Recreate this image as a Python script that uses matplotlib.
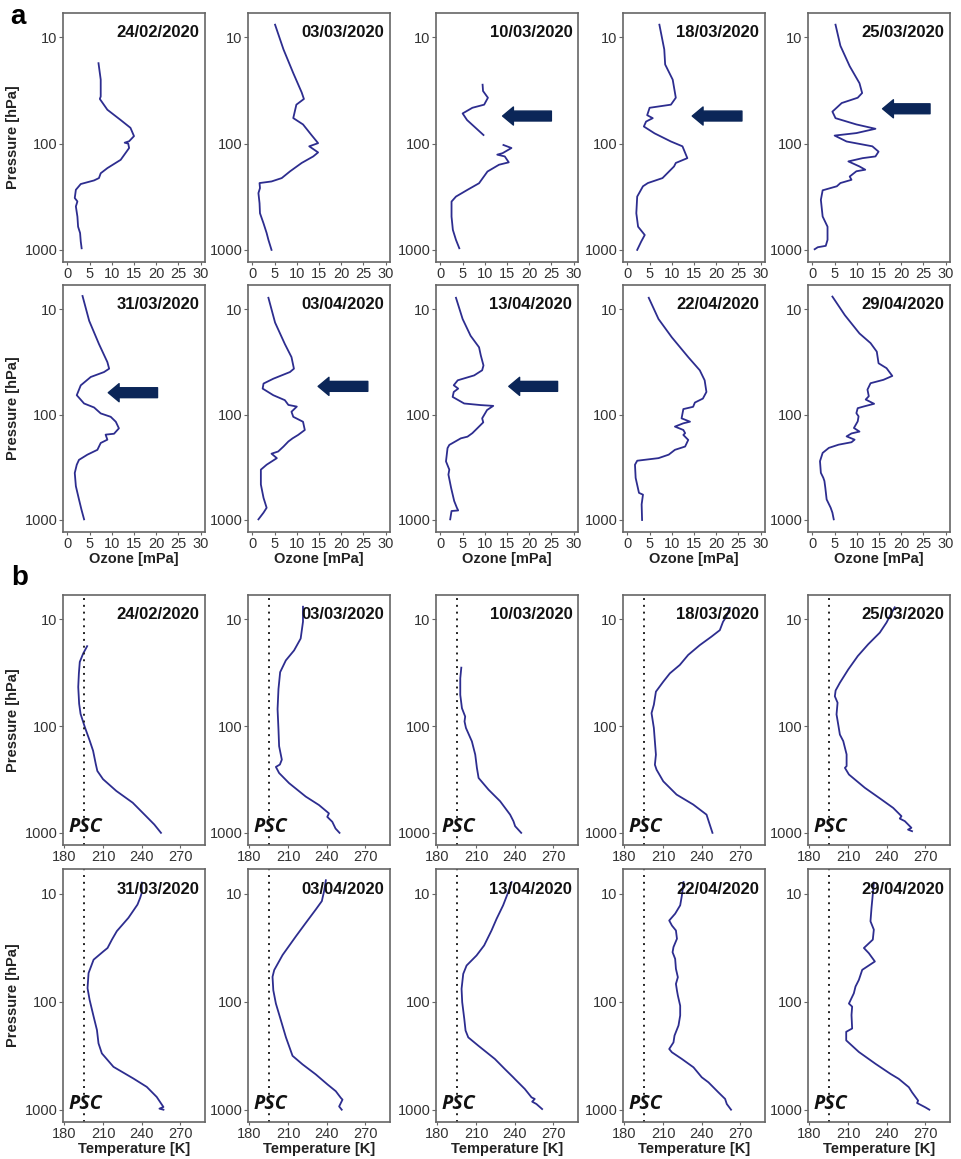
import numpy as np
import matplotlib
matplotlib.use('Agg')
import matplotlib.pyplot as plt

plt.rcParams['font.family'] = ['Liberation Sans', 'DejaVu Sans']

nan = float('nan')

# ---- ozone profiles (mPa) vs pressure (hPa) ----
o3_p_0224 = [17.5, 25, 36, 38, 48, 60, 71, 85, 95, 98, 100, 110, 142, 170, 190, 211, 222, 240, 272, 325, 350, 390, 487, 605, 694, 832, 966]
o3_0224 = [7.0, 7.5, 7.5, 7.3, 9.0, 12.0, 14.2, 15.0, 13.9, 12.9, 13.7, 13.9, 12.0, 9.0, 7.5, 7.1, 6.0, 3.0, 1.9, 1.65, 2.25, 1.9, 2.25, 2.4, 2.85, 3.0, 3.2]

o3_p_0303 = [7.6, 13, 21.7, 33, 38, 43, 57.5, 66, 83, 99, 106, 121, 132, 152, 182, 211, 227, 235, 262, 292, 364, 452, 563, 694, 805, 1000]
o3_0303 = [5.1, 7.0, 9.2, 11.1, 11.6, 9.9, 9.2, 11.4, 13.3, 14.8, 12.8, 14.8, 13.7, 11.1, 8.5, 6.6, 4.3, 1.6, 1.7, 1.35, 1.6, 1.7, 2.5, 3.2, 3.6, 4.3]

o3_p_0310 = [27.9, 32, 37, 43, 46, 52, 60, 71.5, 83, 92, 103, 110, 123, 127, 132, 150, 158, 183, 236, 272, 315, 351, 486, 648, 805, 965]
o3_0310 = [9.5, 9.6, 10.7, 9.85, 7.2, 5.0, 6.0, 8.0, 9.7, nan, 14.2, 16.0, 14.0, 12.8, 14.5, 15.4, 13.2, 10.6, 8.7, 6.1, 3.5, 2.5, 2.5, 2.8, 3.5, 4.25]

o3_p_0318 = [7.6, 13, 18, 25, 37, 43, 46, 54, 57.6, 62, 69, 80, 95.5, 106, 137, 152, 164, 211, 235, 252, 315, 452, 605, 724, 835, 1000]
o3_0318 = [7.2, 8.3, 8.5, 10.2, 10.9, 9.8, 5.0, 4.45, 5.7, 4.2, 3.7, 6.1, 9.8, 12.4, 13.5, 10.9, 10.5, 7.9, 4.6, 3.5, 2.2, 2.0, 2.4, 3.9, 3.1, 2.2]

o3_p_0325 = [7.6, 12, 18.7, 27, 33.4, 37, 41.5, 50, 57.6, 66, 72.5, 79.6, 84, 95.5, 106, 119, 132, 137, 147, 164, 176, 182, 204, 219, 235, 252, 275, 338, 485, 605, 805, 916, 944, 986]
o3_0325 = [5.2, 6.3, 8.4, 10.6, 11.2, 10.2, 6.6, 4.5, 5.2, 9.9, 14.2, 9.9, 5.0, 7.7, 13.5, 14.9, 14.2, 11.3, 8.1, 10.6, 11.9, 9.9, 8.4, 8.8, 6.3, 5.5, 2.3, 1.9, 2.3, 3.4, 3.4, 3.0, 1.2, 0.5]

o3_p_0331 = [7.5, 12.9, 21.4, 31.8, 36.7, 39.5, 44, 52.8, 65.5, 78.5, 85.6, 97.5, 105, 117, 135, 152, 155, 173, 186, 216, 240, 269, 299, 358, 478, 638, 794, 986]
o3_0331 = [3.4, 4.9, 7.1, 9.0, 9.4, 8.25, 5.25, 3.0, 2.1, 3.75, 6.0, 7.5, 9.75, 10.9, 11.6, 10.5, 8.6, 9.0, 7.5, 6.75, 4.5, 2.6, 2.1, 1.65, 1.9, 2.6, 3.15, 3.75]

o3_p_0403 = [7.8, 13.4, 21.4, 28.5, 36.7, 39.5, 45.7, 50.8, 56.7, 65.5, 73, 81, 84, 94, 105, 117, 140, 156, 168, 180, 201, 224, 235, 259, 299, 333, 461, 617, 766, 852, 986]
o3_0403 = [3.6, 5.1, 7.3, 8.8, 9.35, 8.45, 4.7, 2.5, 2.3, 4.7, 7.3, 8.1, 10.0, 8.8, 9.2, 11.4, 11.8, 10.3, 9.05, 8.1, 7.0, 5.8, 4.3, 5.5, 3.2, 1.9, 1.9, 2.5, 3.2, 2.5, 1.35]

o3_p_0413 = [7.8, 12.4, 17.9, 23, 27.5, 34.2, 38, 42.5, 47.3, 52.7, 56.7, 61, 68, 78.5, 81.3, 82.7, 90.6, 108.6, 118.5, 135, 150, 162, 168, 194, 208, 278, 333, 371, 495, 661, 765, 812, 822, 986]
o3_0413 = [3.5, 5.0, 6.8, 8.7, 9.1, 9.7, 9.4, 7.6, 3.9, 3.0, 4.0, 3.0, 2.75, 5.35, 9.1, 11.9, 10.5, 9.4, 9.65, 8.3, 7.2, 6.1, 4.6, 2.0, 1.6, 1.25, 2.0, 1.8, 2.4, 3.1, 3.7, 4.0, 2.5, 2.2]

o3_p_0422 = [7.8, 12.4, 18.5, 28.5, 38, 47.3, 61, 70.5, 76.9, 84.4, 88.7, 108.6, 116.8, 121, 130, 140, 150, 156, 174, 201, 216, 240, 259, 274, 299, 399, 553, 575, 711, 1000]
o3_0422 = [4.8, 7.0, 10.0, 13.7, 16.3, 17.4, 17.8, 17.0, 15.2, 14.8, 12.6, 12.2, 14.1, 12.6, 10.7, 12.6, 13.0, 12.6, 13.7, 13.0, 10.7, 9.3, 7.0, 2.2, 1.7, 1.85, 2.6, 3.5, 3.2, 3.3]

o3_p_0429 = [7.6, 11.4, 17, 21, 25.3, 32.6, 36.3, 43, 46.8, 50.4, 58, 67, 72, 79, 83.7, 87, 97, 104, 116, 134, 145, 151, 161, 173, 183, 193, 207, 231, 277, 357, 398, 427, 494, 638, 764, 852, 986]
o3_0429 = [4.5, 7.3, 10.6, 13.1, 14.5, 14.9, 16.7, 18.0, 16.0, 13.1, 12.4, 12.7, 12.0, 13.9, 11.6, 10.2, 9.9, 10.4, 10.2, 9.35, 10.6, 8.8, 7.7, 9.5, 8.8, 5.9, 3.7, 2.3, 1.7, 1.9, 2.45, 2.7, 2.9, 3.2, 4.1, 4.5, 4.8]

# ---- temperature profiles (K) vs pressure (hPa) ----
t_p_0224 = [17.8, 20.9, 25, 32, 43, 61.7, 76.7, 102, 137, 170, 227, 263, 314, 405, 522, 697, 835, 1000]
t_0224 = [197.7, 194.6, 192.0, 191.3, 190.8, 191.5, 192.6, 195.9, 199.7, 202.3, 204.4, 205.6, 210.0, 220.3, 233.0, 243.3, 249.7, 254.9]

t_p_0303 = [7.6, 10.5, 15.1, 19.5, 24.2, 31.2, 44.9, 69.2, 107, 154, 206, 229, 241, 275, 342, 457, 549, 657, 708, 788, 911, 1000]
t_0303 = [221.6, 221.6, 219.8, 214.7, 208.3, 203.9, 202.6, 201.9, 202.6, 203.1, 205.2, 203.7, 200.6, 203.1, 210.8, 223.7, 234.0, 241.7, 240.4, 244.3, 246.8, 249.9]

t_p_0310 = [28.3, 35.6, 51, 67.9, 81.3, 90.4, 104, 139, 185, 247, 306, 394, 506, 675, 778, 866, 1000]
t_0310 = [198.6, 197.8, 197.8, 199.1, 201.6, 201.1, 202.2, 206.8, 209.4, 210.7, 212.0, 219.7, 228.7, 236.4, 239.0, 240.3, 245.0]

t_p_0318 = [7.8, 9.4, 10.5, 12.6, 14.5, 17.4, 21.5, 26.7, 32, 38.3, 47.5, 63, 75.5, 104, 139, 185, 230, 256, 329, 438, 543, 675, 836, 1000]
t_0318 = [261.7, 259.1, 256.5, 254.0, 247.5, 238.5, 229.5, 223.0, 215.3, 210.2, 204.5, 202.9, 201.1, 202.9, 203.7, 204.5, 203.7, 205.0, 210.2, 220.5, 233.4, 243.7, 246.2, 248.3]

t_p_0325 = [7.7, 8.7, 10.7, 13.3, 17.1, 22, 29.4, 39.2, 46.3, 52.5, 60.3, 77.6, 96.4, 120, 138, 184, 237, 246, 284, 378, 487, 584, 698, 735, 777, 897, 933, 965]
t_0325 = [246.2, 243.7, 239.8, 234.6, 225.6, 217.6, 210.2, 203.7, 200.4, 199.8, 201.9, 201.1, 202.4, 203.7, 206.3, 208.9, 208.9, 207.6, 210.7, 223.0, 235.9, 245.0, 251.4, 250.1, 254.0, 259.1, 256.5, 259.6]

t_p_0331 = [7.9, 9.8, 10.9, 12.6, 16.7, 22.2, 26.6, 31.8, 34.1, 40.8, 54.3, 74.9, 96, 137, 183, 243, 301, 401, 515, 615, 762, 944, 978, 1000]
t_0331 = [240.0, 240.0, 238.8, 236.7, 229.7, 220.7, 216.9, 213.5, 210.4, 202.7, 198.8, 198.0, 199.6, 202.7, 205.3, 206.5, 209.1, 218.1, 233.6, 243.9, 251.6, 256.8, 253.7, 256.8]

t_p_0403 = [7.5, 9.4, 11.7, 14, 18.6, 24.8, 36.9, 50.9, 58.8, 78.3, 104, 149, 214, 317, 380, 471, 584, 674, 777, 807, 933, 1000]
t_0403 = [239.3, 238.0, 236.2, 231.5, 223.8, 216.1, 205.8, 199.3, 198.0, 198.6, 200.6, 204.5, 208.4, 213.5, 221.2, 231.5, 240.6, 247.0, 250.9, 252.2, 249.6, 251.6]

t_p_0413 = [7.8, 9.7, 12.8, 17.1, 21.9, 30.1, 37.3, 46.2, 55.2, 76, 101, 144, 185, 214, 255, 339, 420, 501, 520, 643, 769, 795, 843, 886, 986]
t_0413 = [237.5, 234.9, 231.0, 225.9, 222.0, 216.3, 210.4, 202.7, 200.1, 198.8, 199.3, 200.9, 201.9, 204.0, 211.7, 224.6, 232.3, 238.8, 240.1, 247.8, 253.0, 255.5, 253.5, 256.8, 261.2]

t_p_0422 = [7.8, 10.4, 12.8, 15.3, 17.7, 19.7, 21.9, 26.1, 31.2, 34.8, 40.1, 49.6, 59.3, 68.4, 78.8, 87.7, 109, 134, 166, 206, 238, 274, 294, 339, 405, 501, 558, 691, 795, 886, 1000]
t_0422 = [225.9, 224.6, 223.3, 219.4, 214.8, 216.9, 220.0, 220.8, 218.1, 217.4, 219.4, 220.0, 221.5, 220.0, 220.8, 221.5, 223.3, 223.3, 222.0, 218.9, 218.1, 214.8, 216.9, 224.6, 233.6, 240.0, 245.2, 252.9, 258.1, 259.4, 262.7]

t_p_0429 = [7.9, 10.1, 13.5, 18, 21.5, 26.6, 31.8, 35.5, 42.4, 50.7, 62.8, 72.4, 83.6, 104, 111, 133, 177, 190, 228, 292, 376, 466, 518, 619, 690, 824, 867, 951, 1000]
t_0429 = [230.0, 229.2, 228.2, 227.4, 230.0, 229.2, 222.3, 226.1, 230.8, 221.0, 218.4, 215.8, 214.5, 210.7, 213.2, 212.7, 213.2, 208.6, 208.6, 218.4, 231.3, 242.9, 249.3, 257.1, 259.6, 264.3, 263.5, 269.9, 273.0]

dates = ['24/02/2020', '03/03/2020', '10/03/2020', '18/03/2020', '25/03/2020',
         '31/03/2020', '03/04/2020', '13/04/2020', '22/04/2020', '29/04/2020']

ozone_p = [o3_p_0224, o3_p_0303, o3_p_0310, o3_p_0318, o3_p_0325,
           o3_p_0331, o3_p_0403, o3_p_0413, o3_p_0422, o3_p_0429]
ozone = [o3_0224, o3_0303, o3_0310, o3_0318, o3_0325,
         o3_0331, o3_0403, o3_0413, o3_0422, o3_0429]
temp_p = [t_p_0224, t_p_0303, t_p_0310, t_p_0318, t_p_0325,
          t_p_0331, t_p_0403, t_p_0413, t_p_0422, t_p_0429]
temp = [t_0224, t_0303, t_0310, t_0318, t_0325,
        t_0331, t_0403, t_0413, t_0422, t_0429]

# arrows marking ozone loss: panel index -> (tail x, tip x, pressure)
arrows = {2: (25.0, 14.0, 55), 3: (25.8, 14.6, 55), 4: (26.5, 15.8, 47),
          5: (20.3, 9.2, 62), 6: (26.0, 14.8, 54), 7: (26.4, 15.4, 54)}

psc_temp = 195

line_col = '#2d2d8f'
arrow_col = '#0b2658'
spine_col = '#666666'
text_col = '#333333'

W, H = 961, 1159
fig = plt.figure(figsize=(W / 100, H / 100), dpi=100)

col_left = [63, 248, 436, 623, 808]
ax_w = 142
row_box = [(13, 262), (285, 532), (595, 845), (869, 1122)]


def make_ax(row, col):
    top, bot = row_box[row]
    l = col_left[col]
    ax = fig.add_axes([l / W, 1 - bot / H, ax_w / W, (bot - top) / H])
    ax.set_yscale('log')
    ax.set_ylim(1300, 5.9)
    ax.set_yticks([10, 100, 1000])
    ax.set_yticklabels(['10', '100', '1000'])
    ax.yaxis.set_minor_locator(matplotlib.ticker.NullLocator())
    for s in ax.spines.values():
        s.set_color(spine_col)
        s.set_linewidth(1.2)
    ax.tick_params(axis='y', length=3, color=spine_col, labelsize=10.5,
                   labelcolor=text_col, pad=1)
    ax.tick_params(axis='x', length=2, color=spine_col, labelsize=10.5,
                   labelcolor=text_col, pad=1.5)
    if col == 0:
        ax.set_ylabel('Pressure [hPa]', fontsize=10.5, fontweight='bold',
                      color='#222222', labelpad=3)
    return ax


for i in range(10):
    row, col = divmod(i, 5)
    # ozone panel
    ax = make_ax(row, col)
    ax.plot(ozone[i], ozone_p[i], color=line_col, lw=1.3)
    ax.set_xlim(-1, 31)
    ax.set_xticks([0, 5, 10, 15, 20, 25, 30])
    ax.text(0.96, 0.92, dates[i], transform=ax.transAxes, ha='right',
            va='center', fontsize=12, fontweight='bold', color='#111111',
            zorder=5)
    if i in arrows:
        x0, x1, p = arrows[i]
        ax.annotate('', xy=(x1, p), xytext=(x0, p),
                    arrowprops=dict(arrowstyle='simple,head_length=0.6,head_width=1.0,tail_width=0.55',
                                    color=arrow_col, shrinkA=0, shrinkB=0,
                                    mutation_scale=13))
    if row == 1:
        ax.set_xlabel('Ozone [mPa]', fontsize=10.5, fontweight='bold',
                      color='#222222', labelpad=1)

    # temperature panel
    ax = make_ax(row + 2, col)
    ax.plot(temp[i], temp_p[i], color=line_col, lw=1.3)
    ax.axvline(psc_temp, color='#222222', ls=(0, (1, 2.5)), lw=1.4)
    ax.set_xlim(179, 289)
    ax.set_xticks([180, 210, 240, 270])
    ax.text(0.96, 0.92, dates[i], transform=ax.transAxes, ha='right',
            va='center', fontsize=12, fontweight='bold', color='#111111',
            zorder=5)
    ax.text(0.04, 0.07, 'PSC', transform=ax.transAxes, ha='left',
            va='center', fontsize=14, fontweight='bold', fontstyle='italic',
            family=['Open Sans', 'DejaVu Sans'], color='#111111', zorder=5)
    if row == 1:
        ax.set_xlabel('Temperature [K]', fontsize=10.5, fontweight='bold',
                      color='#222222', labelpad=1)

fig.text(18 / W, 1 - 17 / H, 'a', fontsize=20, fontweight='bold',
         ha='center', va='center')
fig.text(20 / W, 1 - 578 / H, 'b', fontsize=20, fontweight='bold',
         ha='center', va='center')

fig.savefig('out.png', dpi=100, facecolor='white')
